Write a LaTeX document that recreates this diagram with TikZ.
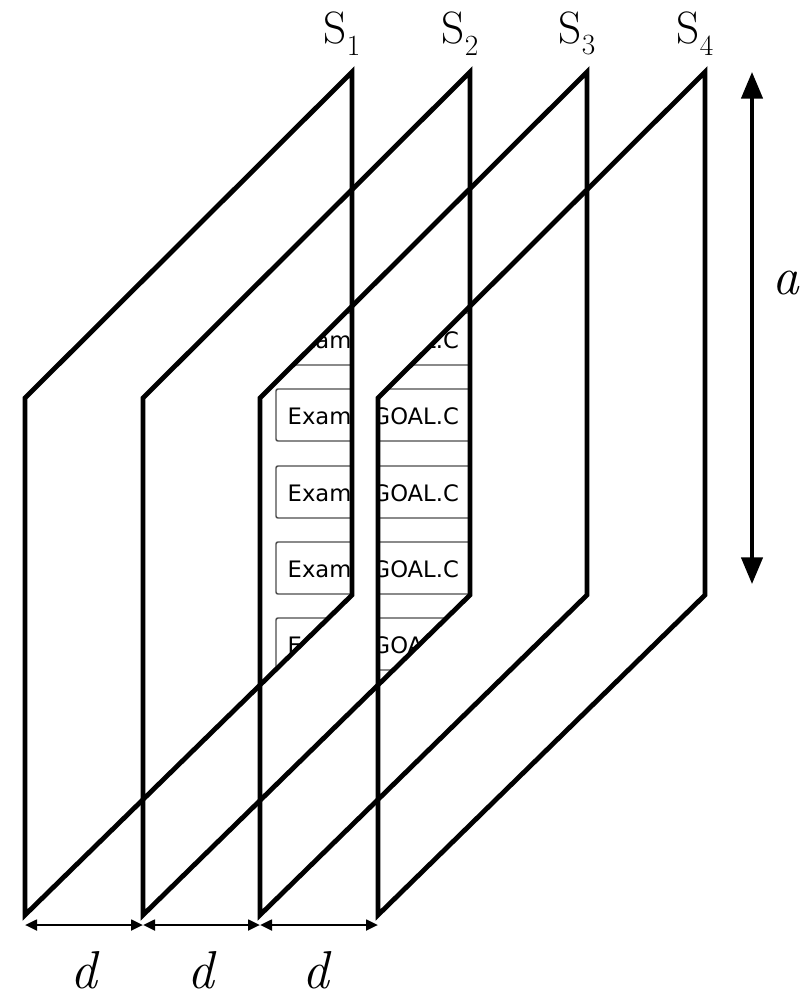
\documentclass[tikz,border=0pt]{standalone}
\usepackage{fontspec}
\newfontfamily\boxfont{DejaVu Sans}
\usetikzlibrary{arrows.meta}
\begin{document}
\begin{tikzpicture}[x=0.75pt,y=-0.75pt,
  panel/.style={line width=3.6pt,line join=miter},
  dim/.style={line width=2pt,{Triangle[length=9pt,width=8pt]}-{Triangle[length=9pt,width=8pt]}},
  bigdim/.style={line width=2.6pt,{Triangle[length=20pt,width=16pt]}-{Triangle[length=20pt,width=16pt]}},
  lbl/.style={font=\fontsize{34}{38}\selectfont},
  ilbl/.style={font=\fontsize{40}{44}\selectfont\itshape},
  ebox/.style={draw=black!70,line width=1.1pt,rounded corners=1.5pt},
  etext/.style={font=\boxfont\fontsize{17}{20}\selectfont,anchor=base west}]
\useasboundingbox (0,0) rectangle (811,1005);
% leftover boxes, visible only where panels overlap
\foreach \ox in {0,118}{
\begin{scope}
\clip (260+\ox,398) -- (352+\ox,306) -- (352+\ox,595) -- (260+\ox,685) -- cycle;
\foreach \y in {313,389,466,542,618}{
  \draw[ebox] (276,\y) rectangle (520,\y+52);
  \node[etext] at (283,\y+35) {Exam};
  \node[etext] at (368,\y+35) {GOAL.C};
}
\end{scope}}
% panels
\foreach \i/\x in {1/25,2/143,3/260,4/378}{
  \coordinate (bl\i) at (\x,915);
  \coordinate (tl\i) at (\x,398);
  \coordinate (tr\i) at (\x+327,72);
  \coordinate (br\i) at (\x+327,595);
  \draw[panel] (bl\i) -- (tl\i) -- (tr\i) -- (br\i) -- cycle;
  \node[lbl,anchor=south] (s\i) at (\x+317,60) {S\raisebox{-0.25em}{\fontsize{22}{24}\selectfont\i}};
}
% dimension arrows
\coordinate (d1) at (25,925);\coordinate (d2) at (143,925);
\coordinate (d3) at (260,925);\coordinate (d4) at (378,925);
\draw[dim] (d1) -- (d2);
\draw[dim] (d2) -- (d3);
\draw[dim] (d3) -- (d4);
\node[ilbl] (l1) at (84,970) {d};
\node[ilbl] (l2) at (201,970) {d};
\node[ilbl] (l3) at (316,970) {d};
\coordinate (a1) at (752,72);\coordinate (a2) at (752,584);
\draw[bigdim] (a1) -- (a2);
\node[ilbl] (la) at (786,283) {a};
\end{tikzpicture}
\end{document}
